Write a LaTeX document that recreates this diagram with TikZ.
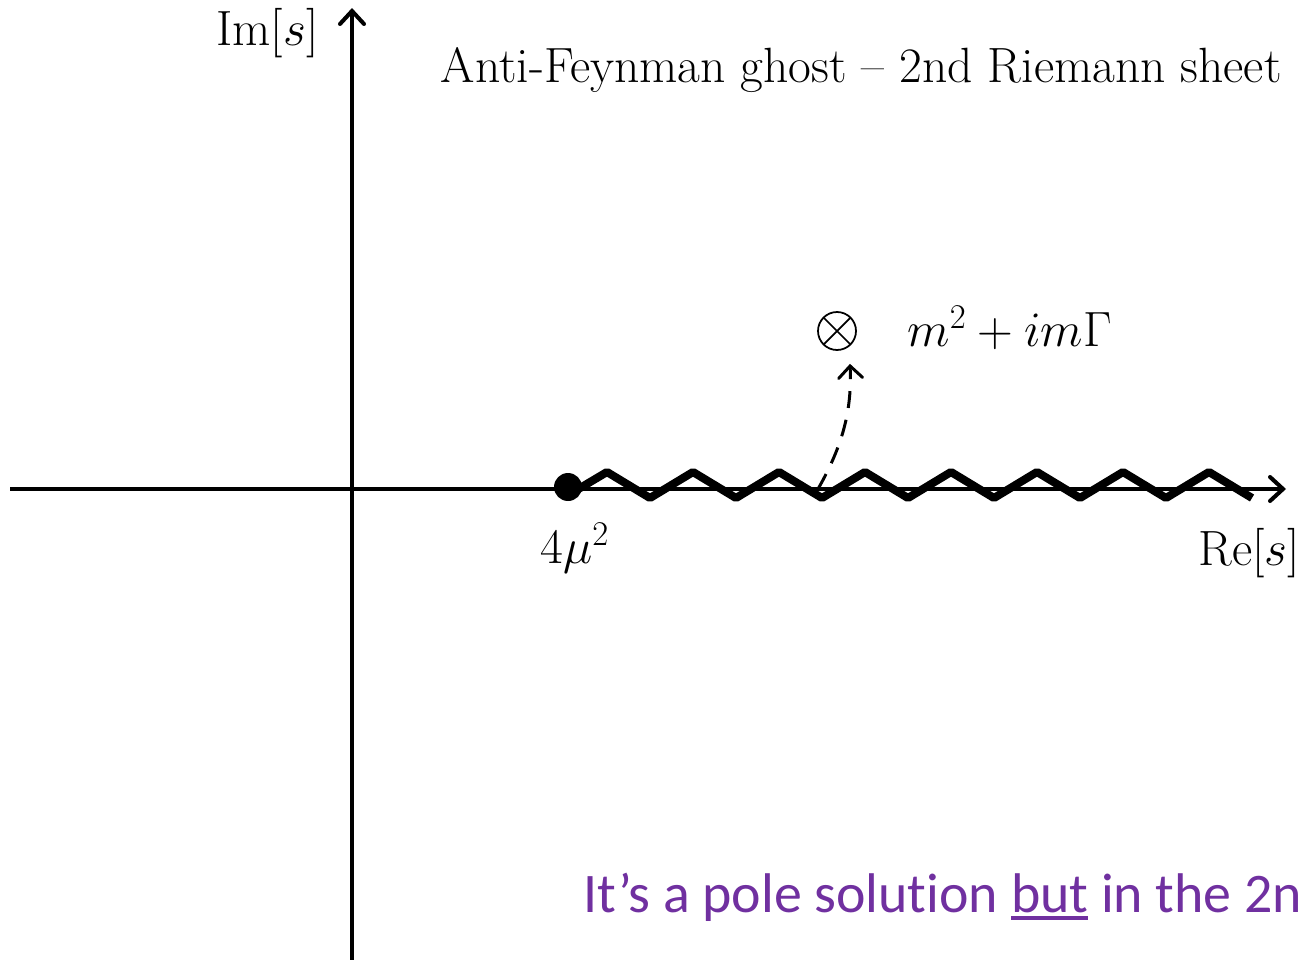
\RequirePackage{fix-cm}
\documentclass[tikz,border=0pt]{standalone}
\usepackage{amsmath,amssymb}
\usepackage{fontspec}
\newfontfamily\slidefont{Carlito}[Ligatures=NoCommon]
\usepackage{xcolor}
\definecolor{Ink}{HTML}{000000}
\definecolor{Violet}{HTML}{7030A0}
\usepackage{tikz}
\usetikzlibrary{arrows.meta,positioning,calc}
\newcommand{\slideul}[1]{\setbox0\hbox{#1}\rlap{\rule[-4.6pt]{\wd0}{2.3pt}}\box0\relax}
\tikzset{
  axis/.style={line width=2.3pt,color=Ink,-{Straight Barb[length=2.6mm,width=4.8mm,line cap=round]}},
  cut/.style={line width=4.6pt,color=Ink,line join=bevel},
  branchdot/.style={circle,fill=Ink,inner sep=0pt,minimum size=5.6mm},
  pole/.style={circle,draw=Ink,line width=1pt,inner sep=0pt,minimum size=7.6mm,
    path picture={\draw[line width=1pt] (path picture bounding box.north west)--(path picture bounding box.south east)
      (path picture bounding box.north east)--(path picture bounding box.south west);}},
  dasharrow/.style={line width=1.7pt,dashed,dash pattern=on 3.4mm off 2.4mm,color=Ink,
    -{Straight Barb[length=2.4mm,width=4.8mm,line cap=round]}},
  mathlabel/.style={font=\fontsize{28.2}{33}\selectfont,inner sep=0pt},
  remark/.style={font=\slidefont\fontsize{31.8}{38}\selectfont,text=Violet,inner sep=0pt}
}
\begin{document}
\begin{tikzpicture}[x=0.02cm,y=-0.02cm,node distance=8mm and 8mm]
  \useasboundingbox (0,0) rectangle (1299,960);
  % axes of the s plane
  \coordinate (xleft) at (10,489);
  \coordinate (xright) at (1286,489);
  \coordinate (ybottom) at (352,965);
  \coordinate (ytop) at (352,8);
  \draw[axis] (xleft) -- (xright);
  \draw[axis] (ybottom) -- (ytop);
  % branch cut
  \draw[cut] (575,491) \foreach \k in {0,...,7} { -- ({607+86*\k},472) -- ({650+86*\k},498)};
  \node[branchdot] (branch) at (568,487) {};
  \node[mathlabel,anchor=base west] (threshold) at (540,563) {$4\mu^2$};
  % the pole
  \node[pole] (pole) at (837,331) {};
  \node[mathlabel,anchor=base west] (polelabel) at (907,346) {$m^2+im\Gamma$};
  \coordinate (kink) at (818,489);
  \coordinate (poletip) at ([shift={(13,13)}]pole.south);
  \draw[dasharrow] (kink) .. controls (843,445) and (852,410) .. (poletip);
  % labels
  \node[mathlabel,anchor=base west] (imlabel) at (216,46) {Im$[s]$};
  \node[mathlabel,anchor=base west] (relabel) at (1198,565) {Re$[s]$};
  \node[mathlabel,anchor=base east] (title) at (1282,82) {Anti-Feynman ghost -- 2nd Riemann sheet};
  \node[remark,anchor=base west] (comment) at (583,912) {It’s a pole solution \slideul{but} in the 2nd};
\end{tikzpicture}
\end{document}
